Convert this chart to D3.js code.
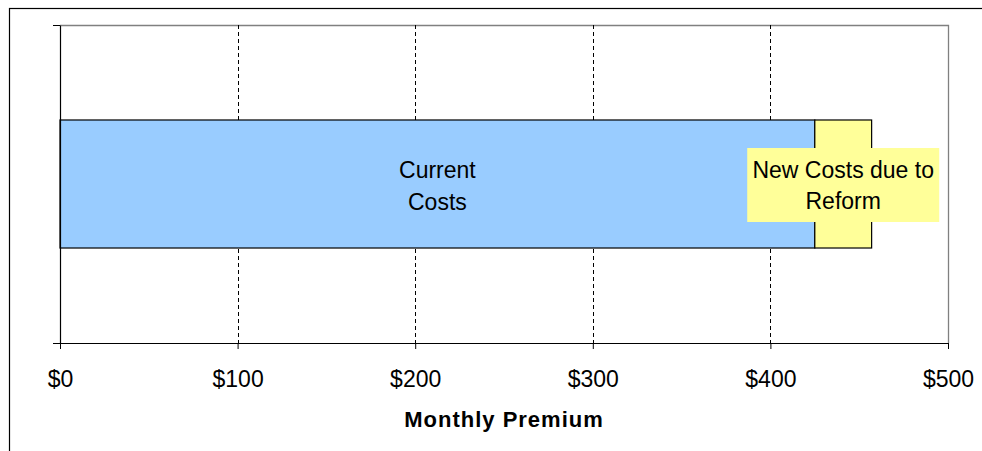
<!DOCTYPE html>
<html>
<head>
<meta charset="utf-8">
<script src="https://cdn.jsdelivr.net/npm/d3@7"></script>
<style>
  body { margin: 0; background: #fff; }
  svg { display: block; font-family: "Liberation Sans", Arial, sans-serif; }
</style>
</head>
<body>
<div id="chart"></div>
<script>
// chart values
const categories = ['Premium'];
const currentCosts = [425];
const newCosts = [32];
const xTicks = [0, 100, 200, 300, 400, 500];
const xTitle = 'Monthly Premium';

const W = 982, H = 451;
const margin = { top: 25, right: 34, bottom: 108, left: 60 };
const width = W - margin.left - margin.right;
const height = H - margin.top - margin.bottom;

const svg = d3.select('#chart').append('svg')
  .attr('width', W)
  .attr('height', H);

// outer frame (runs off the right and bottom edge)
svg.append('rect')
  .attr('x', 9.5).attr('y', 8.5)
  .attr('width', 1200).attr('height', 1200)
  .attr('fill', 'none')
  .attr('stroke', '#000')
  .attr('stroke-width', 1.2);

const chart = svg.append('g')
  .attr('transform', `translate(${margin.left},${margin.top})`);

const x = d3.scaleLinear().domain([0, 500]).range([0, width]);
const y = d3.scaleBand().domain(categories).range([0, height])
  .paddingInner(0).paddingOuter(0.742);

// plot border (top + right, grey)
chart.append('path')
  .attr('d', `M0,0.5H${width + 0.5}V${height}`)
  .attr('fill', 'none')
  .attr('stroke', '#808080')
  .attr('stroke-width', 1.3);

// dashed gridlines
chart.selectAll('.grid')
  .data(xTicks.filter(d => d > 0 && d < 500))
  .enter().append('line')
  .attr('class', 'grid')
  .attr('x1', d => Math.round(x(d)) + 0.5)
  .attr('x2', d => Math.round(x(d)) + 0.5)
  .attr('y1', 0).attr('y2', height)
  .attr('stroke', '#000')
  .attr('stroke-width', 1)
  .attr('stroke-dasharray', '4,3');

// stacked bars
const rows = categories.map((c, i) => ({ cat: c, cur: currentCosts[i], add: newCosts[i] }));

chart.selectAll('.bar-cur')
  .data(rows)
  .enter().append('rect')
  .attr('class', 'bar-cur')
  .attr('x', x(0))
  .attr('y', d => y(d.cat))
  .attr('width', d => x(d.cur) - x(0))
  .attr('height', y.bandwidth())
  .attr('fill', '#99CCFF')
  .attr('stroke', '#000')
  .attr('stroke-width', 1.2);

chart.selectAll('.bar-new')
  .data(rows)
  .enter().append('rect')
  .attr('class', 'bar-new')
  .attr('x', d => x(d.cur))
  .attr('y', d => y(d.cat))
  .attr('width', d => x(d.cur + d.add) - x(d.cur))
  .attr('height', y.bandwidth())
  .attr('fill', '#FFFF99')
  .attr('stroke', '#000')
  .attr('stroke-width', 1.2);

// axes
const yLine = d3.scaleLinear().domain([0, 1]).range([height, 0]);
chart.append('g')
  .attr('class', 'y-axis')
  .call(d3.axisLeft(yLine).tickValues([0, 1]).tickSize(7).tickSizeOuter(0).tickFormat(''))
  .call(g => g.select('.domain').attr('stroke', '#000').attr('stroke-width', 1.2));

chart.append('g')
  .attr('class', 'x-axis')
  .attr('transform', `translate(0,${height})`)
  .call(d3.axisBottom(x).tickValues(xTicks).tickSize(6).tickSizeOuter(0).tickPadding(22)
    .tickFormat(d => '$' + d))
  .call(g => g.select('.domain').attr('stroke', '#000').attr('stroke-width', 1.2))
  .call(g => g.selectAll('.tick line').attr('stroke', '#000'))
  .call(g => g.selectAll('.tick text')
    .attr('font-size', 23)
    .attr('fill', '#000')
    .attr('font-family', '"Liberation Sans", Arial, sans-serif'));

// axis title
chart.append('text')
  .attr('x', width / 2)
  .attr('y', height + 84)
  .attr('text-anchor', 'middle')
  .attr('font-size', 22)
  .attr('font-weight', 'bold')
  .attr('letter-spacing', 1)
  .text(xTitle);

// data labels
const r = rows[0];
const midY = y(r.cat) + y.bandwidth() / 2;

const curX = x(r.cur / 2);
const curLabel = chart.append('text')
  .attr('x', curX)
  .attr('y', midY)
  .attr('text-anchor', 'middle')
  .attr('font-size', 23);
curLabel.append('tspan').attr('x', curX).attr('dy', -6.5).text('Current');
curLabel.append('tspan').attr('x', curX).attr('dy', 32).text('Costs');

const newX = x(r.cur + r.add / 2);
chart.append('rect')
  .attr('x', newX - 96)
  .attr('y', midY - 36)
  .attr('width', 192)
  .attr('height', 74)
  .attr('fill', '#FFFF99');

const newLabel = chart.append('text')
  .attr('x', newX)
  .attr('y', midY)
  .attr('text-anchor', 'middle')
  .attr('font-size', 23);
newLabel.append('tspan').attr('x', newX).attr('dy', -6.5).text('New Costs due to');
newLabel.append('tspan').attr('x', newX).attr('dy', 31).text('Reform');
</script>
</body>
</html>
